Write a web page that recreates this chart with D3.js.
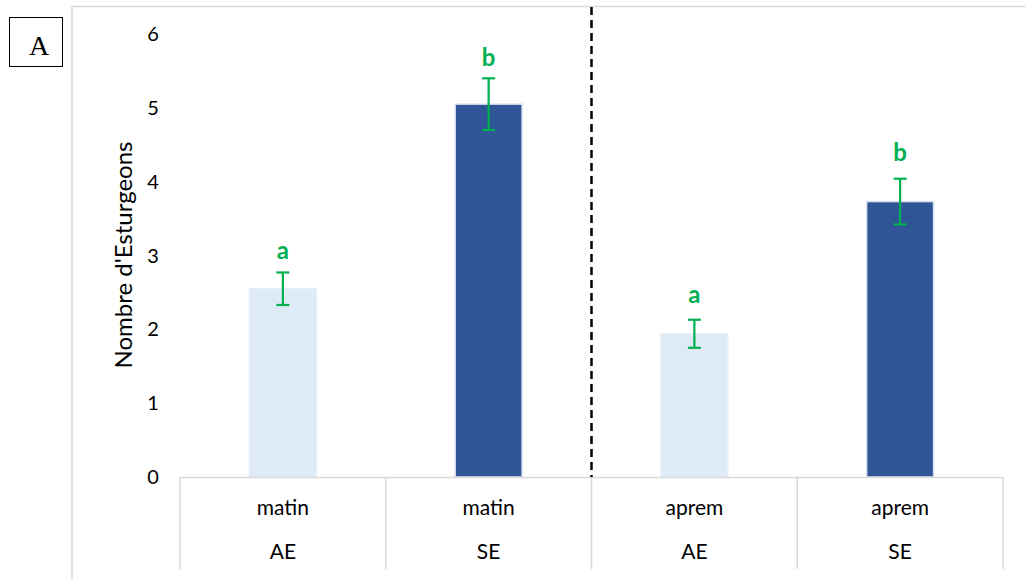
<!DOCTYPE html>
<html><head><meta charset="utf-8">
<script src="https://cdn.jsdelivr.net/npm/d3@7"></script>
<style>body{margin:0;background:#fff;} svg{display:block;}</style>
</head><body>
<svg id="c" width="1025" height="579"></svg>
<script>
const periods = ["matin","matin","aprem","aprem"];
const groups = ["AE","SE","AE","SE"];
const values = [2.55, 5.05, 1.94, 3.73];
const errors = [0.22, 0.35, 0.19, 0.31];
const letters = ["a","b","a","b"];
const letterAnchors = [2.95, 5.57, 2.36, 4.28];
const yTicks = [0,1,2,3,4,5,6];

const svg = d3.select("#c");
const font = "Lato, 'Open Sans', sans-serif";
const x = d3.scaleBand().domain(d3.range(values.length)).range([180, 1003]).padding(0);
const y = d3.scaleLinear().domain([0, 6]).range([477, 34]);
const barW = x.bandwidth() * 0.325;
const fills = ["#DEEBF7", "#2F5597", "#DEEBF7", "#2F5597"];
const strokes = ["#e6eef8", "#d6e0f0", "#e6eef8", "#d6e0f0"];
const green = "#00B050";

// outer frame
svg.append("path").attr("d", "M72,579 V6.5 H1025").attr("fill","none").attr("stroke","#d9d9d9").attr("stroke-width",1.5);

// panel label box
svg.append("rect").attr("x",9.5).attr("y",17.5).attr("width",53).attr("height",49).attr("fill","#fff").attr("stroke","#000").attr("stroke-width",1);
svg.append("text").attr("x",39).attr("y",55).attr("text-anchor","middle").attr("font-family","'Liberation Serif', serif").attr("font-size",28).text("A");

// y tick labels
svg.selectAll(".yt").data(yTicks).enter().append("text")
  .attr("x",153).attr("y",d=>y(d)).attr("dy","0.35em").attr("text-anchor","middle")
  .attr("font-family",font).attr("font-size",20).attr("fill","#000").text(d=>d);

// y title
svg.append("text").attr("transform","translate(132,255) rotate(-90)").attr("text-anchor","middle")
  .attr("font-family",font).attr("font-size",24).attr("fill","#000").text("Nombre d'Esturgeons");

// bars
svg.selectAll(".bar").data(values).enter().append("rect")
  .attr("x",(d,i)=>x(i)+(x.bandwidth()-barW)/2).attr("y",d=>y(d))
  .attr("width",barW).attr("height",d=>y(0)-y(d))
  .attr("fill",(d,i)=>fills[i]).attr("stroke",(d,i)=>strokes[i]).attr("stroke-width",1.5);

// error bars
const cx = i => x(i) + x.bandwidth()/2;
const eg = svg.append("g").attr("stroke",green).attr("stroke-width",2.2);
values.forEach((v,i)=>{
  eg.append("line").attr("x1",cx(i)).attr("x2",cx(i)).attr("y1",y(v+errors[i])).attr("y2",y(v-errors[i]));
  eg.append("line").attr("x1",cx(i)-6.5).attr("x2",cx(i)+6.5).attr("y1",y(v+errors[i])).attr("y2",y(v+errors[i]));
  eg.append("line").attr("x1",cx(i)-6.5).attr("x2",cx(i)+6.5).attr("y1",y(v-errors[i])).attr("y2",y(v-errors[i]));
});

// letters
svg.selectAll(".lt").data(letters).enter().append("text")
  .attr("x",(d,i)=>cx(i)).attr("y",(d,i)=>y(letterAnchors[i]))
  .attr("text-anchor","middle").attr("font-family",font).attr("font-weight","bold")
  .attr("font-size",24).attr("fill",green).text(d=>d);

// x axis line and category separators
svg.append("line").attr("x1",180).attr("x2",1003).attr("y1",477.5).attr("y2",477.5).attr("stroke","#d9d9d9").attr("stroke-width",1.5);
const seps = d3.range(values.length+1).map(i=> i<values.length ? x(i) : x(values.length-1)+x.bandwidth());
svg.selectAll(".sep").data(seps).enter().append("line")
  .attr("x1",d=>d).attr("x2",d=>d).attr("y1",477).attr("y2",569)
  .attr("stroke","#d9d9d9").attr("stroke-width",1.5);

// category labels
svg.selectAll(".p").data(periods).enter().append("text")
  .attr("x",(d,i)=>cx(i)).attr("y",508).attr("dy","0.35em").attr("text-anchor","middle")
  .attr("font-family",font).attr("font-size",21).text(d=>d);
svg.selectAll(".g").data(groups).enter().append("text")
  .attr("x",(d,i)=>cx(i)).attr("y",552).attr("dy","0.35em").attr("text-anchor","middle")
  .attr("font-family",font).attr("font-size",21).text(d=>d);

// dashed separator
svg.append("line").attr("x1",x(2)).attr("x2",x(2)).attr("y1",7).attr("y2",477)
  .attr("stroke","#000").attr("stroke-width",2.5).attr("stroke-dasharray","8,5");
</script>
</body></html>
